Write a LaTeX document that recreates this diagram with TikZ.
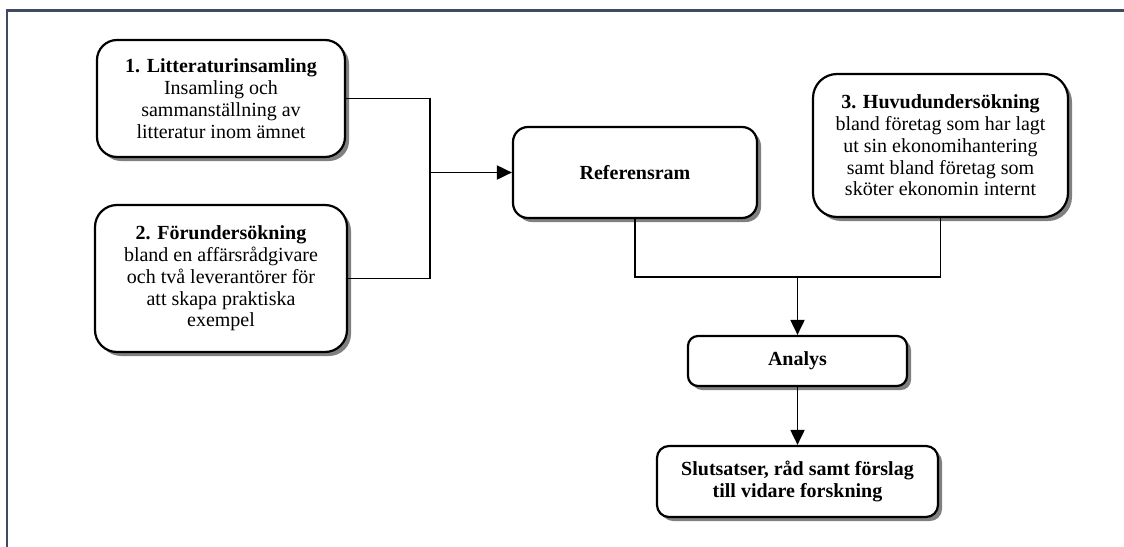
\documentclass[tikz,border=0pt]{standalone}
\usepackage{fontspec}
\setmainfont{Liberation Serif}
\usetikzlibrary{shadows,arrows.meta}
\definecolor{framec}{HTML}{3E4B60}
\tikzset{
  px/.style={x=1pt,y=-1pt},
  box/.style={draw=black, line width=2.2pt, fill=white, align=center,
    inner sep=0pt, font=\fontsize{20}{21.8}\selectfont,
    drop shadow={shadow xshift=4pt, shadow yshift=-4pt, fill=black!50, opacity=1}},
  conn/.style={draw=black, line width=1.9pt},
  arr/.style={conn, -{Triangle[length=15pt,width=14pt]}},
}
\begin{document}
\begin{tikzpicture}[px]
\useasboundingbox (0,0) rectangle (1124,546);
\fill[white] (0,0) rectangle (1124,546);
% frame
\draw[framec, line width=2.2pt] (7,560) -- (7,10.5) -- (1130,10.5);
% boxes
\node[box, rounded corners=20pt, minimum width=248pt, minimum height=117pt] (b1) at (221,98.5)
  {\textbf{1. Litteraturinsamling}\\Insamling och\\sammanställning av\\litteratur inom ämnet};
\node[box, rounded corners=22pt, minimum width=252pt, minimum height=147pt] (b2) at (221,278.5)
  {\textbf{2. Förundersökning}\\bland en affärsrådgivare\\och två leverantörer för\\att skapa praktiska\\exempel};
\node[box, rounded corners=15pt, minimum width=244pt, minimum height=91pt] (ref) at (635,172.5)
  {\textbf{Referensram}};
\node[box, rounded corners=24pt, minimum width=255pt, minimum height=143pt] (b3) at (940.5,145.5)
  {\textbf{3. Huvudundersökning}\\bland företag som har lagt\\ut sin ekonomihantering\\samt bland företag som\\sköter ekonomin internt};
\node[box, rounded corners=10pt, minimum width=219pt, minimum height=50pt] (an) at (797.5,361)
  {\textbf{Analys}};
\node[box, rounded corners=12pt, minimum width=281pt, minimum height=71pt] (sl) at (797.5,481.5)
  {\textbf{Slutsatser, råd samt förslag}\\\textbf{till vidare forskning}};
% junctions
\coordinate (j) at (430,172.5);
\coordinate (m) at (797.5,277);
\draw[conn] (b1.east) -| (j);
\draw[conn] (b2.east) -| (j);
\draw[arr] (j) -- (ref.west);
\draw[conn] (ref.south) |- (m);
\draw[conn] (b3.south) |- (m);
\draw[arr] (m) -- (an.north);
\draw[arr] (an.south) -- (sl.north);
\end{tikzpicture}
\end{document}
